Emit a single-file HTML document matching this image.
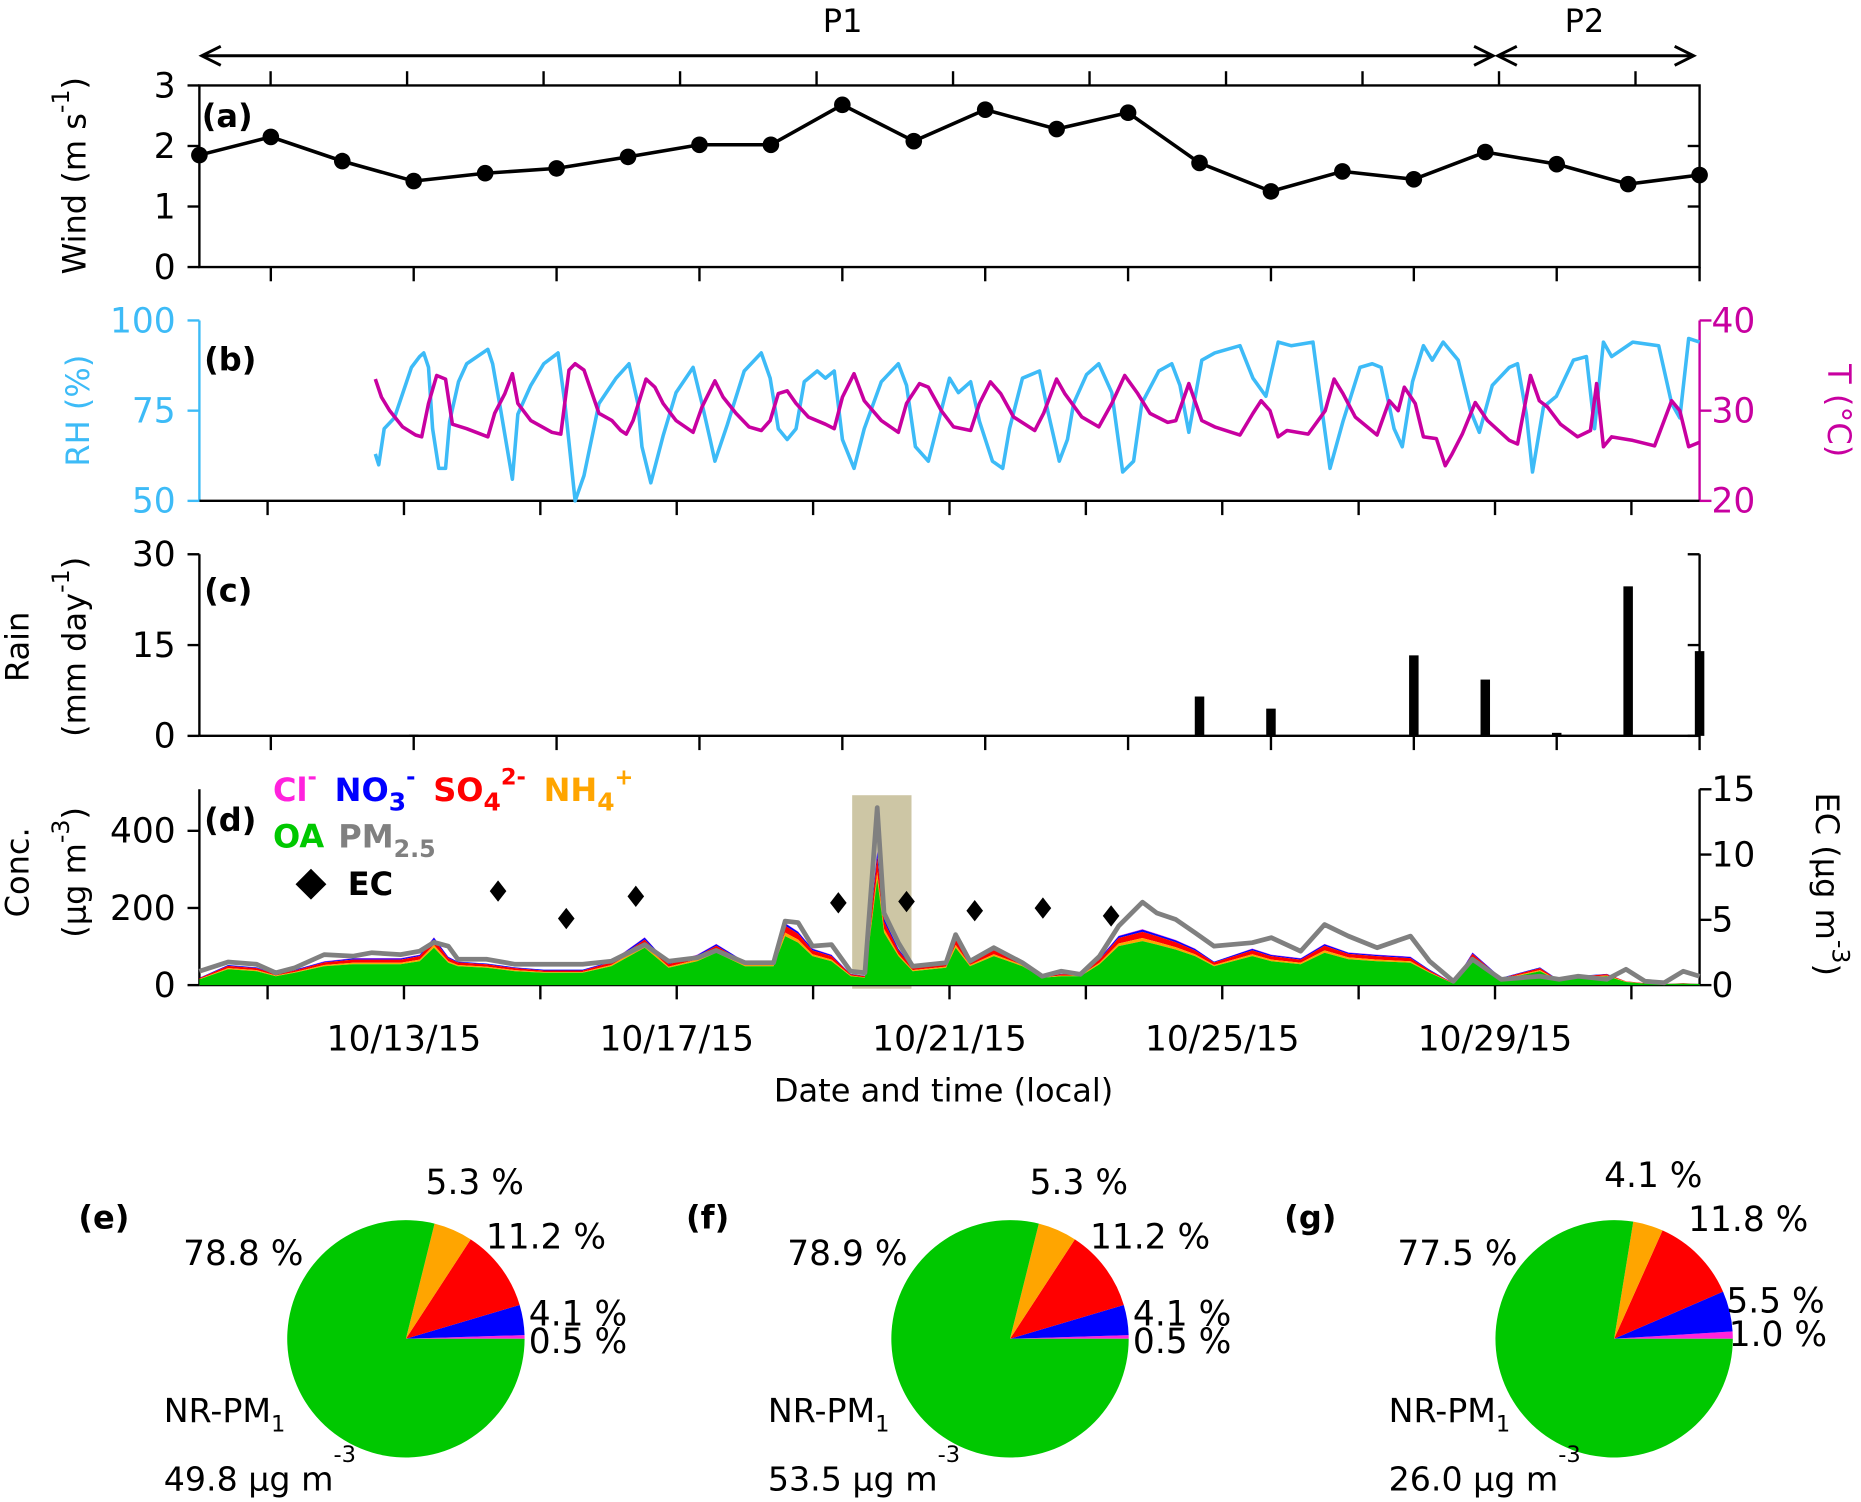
<!DOCTYPE html>
<html><head><meta charset="utf-8"><style>
html,body{margin:0;padding:0;background:#fff;}
svg{display:block;font-family:"DejaVu Sans","Liberation Sans",sans-serif;}
.t{font-size:27px;fill:#000;}
.b{font-weight:bold;}
</style></head><body>
<svg id="fig" xmlns="http://www.w3.org/2000/svg" width="1861" height="1502" viewBox="0 0 1568 1265.5" preserveAspectRatio="none">
<g id="static">
<!-- period arrows -->
<g stroke="#000" stroke-width="2.5" fill="none">
<line x1="172" y1="47" x2="1256" y2="47"/><polyline points="186,39 170,47 186,55"/><polyline points="1242,39 1258,47 1242,55"/>
<line x1="1264" y1="47" x2="1425" y2="47"/><polyline points="1278,39 1262,47 1278,55"/><polyline points="1411,39 1427,47 1411,55"/>
</g>
<text class="t" x="710" y="27" text-anchor="middle" font-size="30">P1</text>
<text class="t" x="1335" y="27" text-anchor="middle" font-size="30">P2</text>

<!-- panel a frame -->
<rect x="168" y="72" width="1264" height="153" fill="none" stroke="#000" stroke-width="2"/>
<text class="t b" x="170" y="107">(a)</text>
<text class="t" transform="translate(72,148) rotate(-90)" text-anchor="middle" font-size="29">Wind (m s<tspan dy="-14" font-size="20">-1</tspan><tspan dy="14">)</tspan></text>

<!-- panel b frame -->
<line x1="168" y1="270" x2="168" y2="422" stroke="#3dbbf7" stroke-width="2"/>
<line x1="1432" y1="270" x2="1432" y2="422" stroke="#c800a0" stroke-width="2"/>
<line x1="168" y1="422" x2="1432" y2="422" stroke="#000" stroke-width="2"/>
<text class="t b" x="172" y="312">(b)</text>
<text class="t" transform="translate(75,346) rotate(-90)" text-anchor="middle" font-size="29" fill="#3dbbf7" style="fill:#3dbbf7">RH (%)</text>
<text class="t" transform="translate(1540,346) rotate(90)" text-anchor="middle" font-size="29" style="fill:#c800a0">T (°C)</text>

<!-- panel c -->
<line x1="168" y1="467" x2="168" y2="620" stroke="#000" stroke-width="2"/>
<line x1="1432" y1="467" x2="1432" y2="620" stroke="#000" stroke-width="2"/>
<line x1="168" y1="620" x2="1432" y2="620" stroke="#000" stroke-width="2"/>
<text class="t b" x="172" y="507">(c)</text>
<text class="t" transform="translate(24,545) rotate(-90)" text-anchor="middle" font-size="29">Rain</text>
<text class="t" transform="translate(72,545) rotate(-90)" text-anchor="middle" font-size="29">(mm day<tspan dy="-14" font-size="20">-1</tspan><tspan dy="14">)</tspan></text>

<!-- panel d -->
<rect x="718" y="670" width="50" height="163" fill="#cdc6a5"/>
<line x1="168" y1="665" x2="168" y2="830" stroke="#000" stroke-width="2"/>
<line x1="1432" y1="665" x2="1432" y2="830" stroke="#000" stroke-width="2"/>
<line x1="168" y1="830" x2="1432" y2="830" stroke="#000" stroke-width="2"/>
<text class="t" transform="translate(24,735) rotate(-90)" text-anchor="middle" font-size="29">Conc.</text>
<text class="t" transform="translate(72,735) rotate(-90)" text-anchor="middle" font-size="29">(μg m<tspan dy="-14" font-size="20">-3</tspan><tspan dy="14">)</tspan></text>
<text class="t" transform="translate(1530,745) rotate(90)" text-anchor="middle" font-size="29">EC (μg m<tspan dy="-14" font-size="20">-3</tspan><tspan dy="14">)</tspan></text>
<text class="t" x="795" y="928" text-anchor="middle" font-size="30">Date and time (local)</text>

<!-- legend -->
<g class="b" font-size="27" font-weight="bold">
<text x="230" y="675" fill="#ff22dd">Cl<tspan dy="-14" font-size="19">-</tspan></text>
<text x="282" y="675" fill="#0000ff">NO<tspan dy="8" font-size="21">3</tspan><tspan dy="-22" font-size="19">-</tspan></text>
<text x="365" y="675" fill="#ff0000">SO<tspan dy="8" font-size="21">4</tspan><tspan dy="-22" font-size="19">2-</tspan></text>
<text x="458" y="675" fill="#ffa500">NH<tspan dy="8" font-size="21">4</tspan><tspan dy="-22" font-size="19">+</tspan></text>
<text x="230" y="714" fill="#00c800">OA</text>
<text x="285" y="714" fill="#808080">PM<tspan dy="8" font-size="20">2.5</tspan></text>
<polygon points="262,732 275,745 262,758 249,745" fill="#000"/>
<text x="293" y="754" fill="#000">EC</text>
</g>
<text class="t b" x="172" y="700">(d)</text>

<!-- pies letters -->
<text class="t b" x="66" y="1035">(e)</text>
<text class="t b" x="578" y="1035">(f)</text>
<text class="t b" x="1082" y="1035">(g)</text>
</g>
<g id="dyn"></g>
</svg>
<script>
// ---------- data ----------
const windDays = [0,1,2,3,4,5,6,7,8,9,10,11,12,13,14,15,16,17,18,19,20,21];
const windValues = [1.85,2.15,1.75,1.42,1.55,1.63,1.82,2.02,2.02,2.68,2.08,2.6,2.28,2.55,1.72,1.25,1.58,1.45,1.9,1.7,1.37,1.52];
const windTicks = [0,1,2,3];

const rhTime = [2.58,2.63,2.71,2.86,3.11,3.23,3.29,3.36,3.42,3.51,
3.61,3.67,3.80,3.92,4.23,4.30,4.42,4.59,4.67,4.86,
5.05,5.26,5.36,5.51,5.64,5.86,6.11,6.30,6.43,6.49,
6.62,6.80,6.99,7.24,7.37,7.49,7.56,7.74,7.99,8.24,
8.37,8.49,8.62,8.75,8.87,9.06,9.18,9.31,9.43,9.60,
9.75,10.00,10.25,10.37,10.50,10.69,11.00,11.13,11.31,11.44,
11.63,11.78,11.88,12.07,12.32,12.44,12.61,12.73,12.82,13.01,
13.19,13.38,13.54,13.70,13.82,14.07,14.26,14.38,14.51,14.70,
14.89,15.26,15.45,15.64,15.82,16.01,16.33,16.45,16.58,16.77,
17.02,17.20,17.33,17.52,17.64,17.79,17.95,18.08,18.24,18.46,
18.64,18.77,18.96,19.21,19.33,19.46,19.55,19.71,19.90,20.15,
20.34,20.46,20.59,20.71,21.02,21.40,21.59,21.71,21.84,22.0];
const rhValues = [63,60,70,73,87,90,91,87,70,59,
59,72,83,88,92,88,75,56,74,82,
88,91,77,50,57,77,84,88,77,65,
55,68,80,87,77,67,61,71,86,91,
84,70,67,70,83,86,84,86,67,59,
70,83,88,82,65,61,84,80,83,72,
61,59,70,84,86,75,61,67,77,85,
88,80,58,61,77,86,88,82,69,89,
91,93,84,79,94,93,94,77,59,72,
87,88,87,70,65,83,93,89,94,89,
75,69,82,87,88,74,58,76,79,89,
90,70,94,90,94,93,77,73,95,94];
const rhTicks = [50,75,100];

const tTime = [2.58,2.67,2.79,2.98,3.17,3.26,3.36,3.48,3.61,3.71,
3.92,4.23,4.33,4.48,4.59,4.67,4.86,5.17,5.30,5.42,
5.51,5.64,5.86,6.05,6.18,6.26,6.36,6.55,6.68,6.80,
6.99,7.24,7.37,7.56,7.68,7.87,8.06,8.24,8.37,8.49,
8.62,8.75,8.93,9.18,9.31,9.43,9.60,9.75,10.00,10.25,
10.37,10.56,10.69,10.88,11.06,11.31,11.44,11.60,11.75,11.94,
12.25,12.38,12.57,12.69,12.94,13.19,13.38,13.57,13.76,13.94,
14.20,14.32,14.51,14.70,14.89,15.26,15.45,15.57,15.70,15.82,
15.95,16.26,16.51,16.64,16.77,16.95,17.27,17.45,17.58,17.67,
17.83,17.95,18.14,18.27,18.37,18.52,18.71,18.89,19.21,19.33,
19.52,19.65,19.77,19.96,20.21,20.40,20.49,20.59,20.71,21.02,
21.34,21.59,21.71,21.84,22.0];
const tValues = [33.5,31.5,30.0,28.2,27.3,27.1,30.8,33.9,33.5,28.5,
28.0,27.1,29.7,31.9,34.1,30.8,28.9,27.6,27.4,34.5,
35.2,34.5,29.7,28.9,27.8,27.4,28.9,33.5,32.6,30.8,
28.9,27.6,30.4,33.3,31.5,29.7,28.2,27.8,28.9,31.9,
32.2,30.8,29.3,28.5,28.0,31.5,34.1,31.1,28.9,27.6,
30.8,33.0,32.6,30.0,28.2,27.8,30.8,33.2,31.9,29.3,
27.8,29.7,33.5,31.9,29.3,28.2,30.8,33.9,31.9,29.7,
28.7,28.9,33.0,28.9,28.2,27.3,29.7,31.1,30.0,27.1,
27.8,27.4,30.0,33.5,31.9,29.3,27.3,31.1,30.0,32.6,
30.8,27.1,26.9,23.9,25.2,27.4,30.9,28.9,26.7,26.3,
33.9,31.1,30.4,28.5,27.1,27.8,33.0,26.0,27.1,26.7,
26.1,31.1,30.0,26.0,26.5];
const tTicks = [20,30,40];

const rainDays = [3,14,15,17,18,19,20,21];
const rainValues = [0.2,6.5,4.5,13.3,9.3,0.5,24.7,14];
const rainTicks = [0,15,30];

const pmTime = [0,0.42,0.84,1.12,1.40,1.83,2.25,2.53,2.95,3.23,
3.44,3.65,3.79,4.21,4.63,5.05,5.62,6.04,6.53,6.88,
7.30,7.58,8.00,8.42,8.59,8.78,8.99,9.27,9.55,9.76,
9.94,10.04,10.25,10.46,10.95,11.09,11.30,11.65,12.07,12.36,
12.64,12.92,13.20,13.48,13.83,14.04,14.32,14.60,14.88,15.44,
15.72,16.15,16.50,16.85,17.27,17.76,18.04,18.39,18.67,19.09,
19.66,19.94,20.22,20.64,20.92,21.20,21.48,21.76,22.0];
const pm25 = [36,60,54,32,45,79,75,84,79,88,
111,101,67,67,54,54,54,62,105,62,
71,90,58,58,166,162,101,105,36,32,
460,187,110,49,58,131,62,97,58,23,
36,28,75,153,215,187,170,136,101,110,
123,88,157,127,97,127,62,10,67,15,
23,15,23,15,41,10,6,36,23];
const oa = [15,41,36,23,32,49,54,54,54,62,
97,58,49,45,36,32,32,49,97,45,
62,84,49,49,127,110,75,62,23,19,
274,136,75,36,45,97,49,75,49,19,
23,23,54,101,114,105,92,75,49,75,
62,54,84,67,62,58,32,4,67,15,
36,10,19,23,8,4,3,4,3];
const nh4 = [1,3,3,2,2,3,4,4,4,4,7,4,3,3,3,2,2,3,7,3,4,6,3,3,9,8,5,4,2,1,19,10,5,3,3,7,3,5,3,1,2,2,4,7,8,7,6,5,3,5,4,4,6,5,4,4,2,0,5,1,3,1,1,2,1,0,0,0,0];
const so4 = [2,6,5,3,4,7,8,8,8,9,14,8,7,6,5,4,4,7,14,6,9,12,7,7,18,15,10,9,3,3,38,19,10,5,6,14,7,10,7,3,3,3,8,14,16,15,13,10,7,10,9,8,12,9,9,8,4,1,9,2,5,1,3,3,1,1,0,1,0];
const no3 = [1,2,2,1,2,2,3,3,3,3,5,3,2,2,2,2,2,2,5,2,3,4,2,2,6,5,4,3,1,1,14,7,4,2,2,5,2,4,2,1,1,1,3,5,6,5,5,4,2,4,3,3,4,3,3,3,2,0,3,1,2,1,1,1,0,0,0,0,0];
const cl = [0,0,0,0,0,1,1,1,1,1,1,1,0,0,0,0,0,1,1,0,1,1,0,0,1,1,1,1,0,0,2,1,1,0,0,1,0,1,0,0,0,0,1,1,1,1,1,1,0,1,1,1,1,1,1,1,0,0,1,0,0,0,0,0,0,0,0,0,0];
const concTicks = [0,200,400];
const ecTime = [4.38,5.38,6.4,9.37,10.37,11.37,12.37,13.37];
const ecValues = [7.2,5.1,6.8,6.3,6.4,5.7,5.9,5.3];
const ecTicks = [0,5,10,15];
const dateTickDays = [3,7,11,15,19];
const dateTickLabels = ["10/13/15","10/17/15","10/21/15","10/25/15","10/29/15"];

const pieNames = ["e","f","g"];
const pieCl = [0.5,0.5,1.0];
const pieNo3 = [4.1,4.1,5.5];
const pieSo4 = [11.2,11.2,11.8];
const pieNh4 = [5.3,5.3,4.1];
const pieOa = [78.8,78.9,77.5];
const pieTotal = ["49.8","53.5","26.0"];

// ---------- scales ----------
const X0=168, X1=1432, NDAYS=22;
function xDay(t){return X0+(X1-X0)*t/NDAYS;}
function xWind(i){return X0+(X1-X0)*i/21;}
function yWind(v){return 225-(225-72)*v/3;}
function yRH(v){return 422-(422-270)*(v-50)/50;}
function yT(v){return 422-(422-270)*(v-20)/20;}
function yRain(v){return 620-(620-467)*v/30;}
function yConc(v){return 830-(830-700)*v/400;}
function yEC(v){return 830-(830-665)*v/15;}

const NS="http://www.w3.org/2000/svg";
const dyn=document.getElementById('dyn');
function mk(tag,attrs,parent){const e=document.createElementNS(NS,tag);for(const k in attrs)e.setAttribute(k,attrs[k]);(parent||dyn).appendChild(e);return e;}

// ---------- ticks ----------
const topTickX=[0,1,2,3,4,5,6,7,8,9,10];
topTickX.forEach(k=>{const e=mk('line',{x1:228+115*k,y1:60,x2:228+115*k,y2:72,stroke:'#000','stroke-width':2});

});
[1,3,5,7,9,11,13,15,17,19,21].forEach(i=>{
 [[225,237],[620,632]].forEach(p=>{const e=mk('line',{x1:xWind(i),y1:p[0],x2:xWind(i),y2:p[1],stroke:'#000','stroke-width':2});
 
 });
});
for(let d=1;d<22;d+=2){
 [[422,434],[830,842]].forEach(p=>{const e=mk('line',{x1:xDay(d),y1:p[0],x2:xDay(d),y2:p[1],stroke:'#000','stroke-width':2});
 
 });
}
function yTicks(ticks,fy,side,color,name){
 ticks.forEach(v=>{
  const y=fy(v);
  const x=side==='l'?X0:X1;
  const l=mk('line',{x1:x,y1:y,x2:side==='l'?x-10:x+10,y2:y,stroke:color,'stroke-width':2});
  
  
  const t=mk('text',{x:side==='l'?x-20:x+10,y:y+10,'text-anchor':side==='l'?'end':'start','font-size':29,fill:color});
  t.textContent=v;
  
  
 });
}
yTicks(windTicks,yWind,'l','#000','wind');
yTicks(rhTicks,yRH,'l','#3dbbf7','rh');
yTicks(tTicks,yT,'r','#c800a0','temperature');
yTicks(rainTicks,yRain,'l','#000','rain');
yTicks(concTicks,yConc,'l','#000','conc');
yTicks(ecTicks,yEC,'r','#000','ec');
[1,2].forEach(v=>{const e=mk('line',{x1:X1,y1:yWind(v),x2:X1-10,y2:yWind(v),stroke:'#000','stroke-width':2});

});
[0,15,30].forEach(v=>{const e=mk('line',{x1:X1,y1:yRain(v),x2:X1-10,y2:yRain(v),stroke:'#000','stroke-width':2});

});
dateTickDays.forEach((d,i)=>{const t=mk('text',{x:xDay(d),y:885,'text-anchor':'middle','font-size':29,fill:'#000'});
t.textContent=dateTickLabels[i];

});

// ---------- wind ----------
const wl=mk('polyline',{points:windValues.map((v,i)=>xWind(windDays[i])+','+yWind(v)).join(' '),fill:'none',stroke:'#000','stroke-width':3});


windValues.forEach((v,i)=>{const c=mk('circle',{cx:xWind(windDays[i]),cy:yWind(v),r:7,fill:'#000'});

});

// ---------- RH / T ----------
const rl=mk('polyline',{points:rhValues.map((v,i)=>xDay(rhTime[i])+','+yRH(v)).join(' '),fill:'none',stroke:'#3dbbf7','stroke-width':3,'stroke-linejoin':'round'});


const tl=mk('polyline',{points:tValues.map((v,i)=>xDay(tTime[i])+','+yT(v)).join(' '),fill:'none',stroke:'#c800a0','stroke-width':3,'stroke-linejoin':'round'});



// ---------- rain ----------
rainValues.forEach((v,i)=>{const r=mk('rect',{x:xWind(rainDays[i])-4,y:yRain(v),width:8,height:yRain(0)-yRain(v),fill:'#000'});

});

// ---------- stacked areas ----------
const layers=[[oa,'#00c800','oa-area'],[nh4,'#ffa500','nh4-area'],[so4,'#ff0000','so4-area'],[no3,'#0000ff','no3-area'],[cl,'#ff22dd','cl-area']];
let base=pmTime.map(()=>0);
const areaEls=[];
layers.forEach(L=>{
 const top=base.map((b,i)=>b+L[0][i]);
 let pts=top.map((v,i)=>xDay(pmTime[i])+','+yConc(v));
 for(let i=base.length-1;i>=0;i--)pts.push(xDay(pmTime[i])+','+yConc(base[i]));
 areaEls.push([pts.join(' '),L[1],L[2]]);
 base=top;
});
areaEls.reverse().forEach(a=>{const p=mk('polygon',{points:a[0],fill:a[1]});

});
const pl=mk('polyline',{points:pm25.map((v,i)=>xDay(pmTime[i])+','+yConc(v)).join(' '),fill:'none',stroke:'#808080','stroke-width':4,'stroke-linejoin':'round'});


ecValues.forEach((v,i)=>{const x=xDay(ecTime[i]),y=yEC(v);
const d=mk('polygon',{points:`${x},${y-9} ${x+7},${y} ${x},${y+9} ${x-7},${y}`,fill:'#000'});

});

// ---------- pies ----------
const pieCx=[342,851,1360];
const colors=['#ff22dd','#0000ff','#ff0000','#ffa500','#00c800'];
const segNames=['cl','no3','so4','nh4','oa'];
pieNames.forEach((n,p)=>{
 const vals=[pieCl[p],pieNo3[p],pieSo4[p],pieNh4[p],pieOa[p]];
 const sum=vals.reduce((a,b)=>a+b,0);
 const cx=pieCx[p],cy=1128,r=100;
 let a0=0;
 vals.forEach((v,k)=>{
  const a1=a0+v/sum*2*Math.PI;
  const x0=cx+r*Math.cos(a0),y0=cy-r*Math.sin(a0),x1=cx+r*Math.cos(a1),y1=cy-r*Math.sin(a1);
  const large=(a1-a0)>Math.PI?1:0;
  const s=mk('path',{d:`M${cx},${cy} L${x0},${y0} A${r},${r} 0 ${large} 0 ${x1},${y1} Z`,fill:colors[k]});
  
  
  a0=a1;
 });
 const off=cx-342;
 const labs=[[vals[3],400,1006],[vals[2],460,1052],[vals[1],487,1117],[vals[0],487,1140],[vals[4],205,1066]];
 if(p===2){labs[0][1]=400-25;labs[0][2]=1000;labs[1][1]=455;labs[1][2]=1037;labs[2][1]=478;labs[2][2]=1106;labs[3][1]=480;labs[3][2]=1134;labs[4][1]=210;}
 labs.forEach(L=>{const t=mk('text',{x:L[1]+off,y:L[2],'text-anchor':'middle','font-size':29,fill:'#000'});
  t.textContent=L[0].toFixed(1)+' %';
  
  });
 const nr=mk('text',{x:138+off+(p===2?14:0),y:1198,'font-size':28,fill:'#000'});
 nr.innerHTML='NR-PM<tspan dy="8" font-size="19">1</tspan>';
 
 
 const tt=mk('text',{x:138+off+(p===2?14:0),y:1256,'font-size':28,fill:'#000'});
 tt.innerHTML=pieTotal[p]+' μg m<tspan dy="-24" font-size="19">-3</tspan>';
 
 
});
</script>
</body></html>
